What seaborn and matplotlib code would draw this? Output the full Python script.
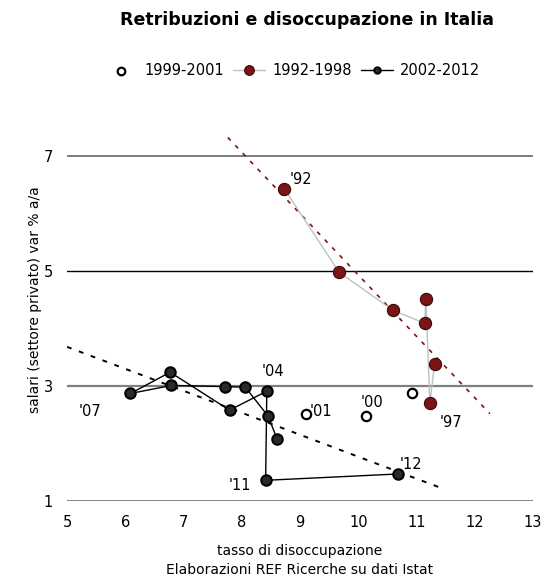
import numpy as np
import pandas as pd
import seaborn as sns
import matplotlib.pyplot as plt

# 1992-1998 (red, grey connecting line)
years_a = ["'92", "'93", "'94", "'95", "'96", "'97", "'98"]
disocc_a = [8.73, 9.67, 10.59, 11.14, 11.16, 11.23, 11.31]
salari_a = [6.43, 4.98, 4.32, 4.09, 4.52, 2.70, 3.39]

# 1999-2001 (open circles)
years_b = ["'99", "'00", "'01"]
disocc_b = [10.93, 10.13, 9.10]
salari_b = [2.87, 2.48, 2.51]

# 2002-2012 (black, black connecting line)
years_c = ["'02", "'03", "'04", "'05", "'06", "'07", "'08", "'09", "'10", "'11", "'12"]
disocc_c = [8.61, 8.45, 8.06, 7.71, 6.79, 6.09, 6.77, 7.79, 8.43, 8.41, 10.68]
salari_c = [2.07, 2.48, 2.98, 2.99, 3.01, 2.87, 3.24, 2.58, 2.91, 1.36, 1.47]

# label offsets in points
labels_a = {"'92": (4, 7), "'97": (7, -14)}
labels_b = {"'00": (-4, 10), "'01": (3, 2)}
labels_c = {"'04": (12, 11), "'07": (-37, -13), "'11": (-27, -4), "'12": (1, 7)}

df_a = pd.DataFrame({"x": disocc_a, "y": salari_a})
df_b = pd.DataFrame({"x": disocc_b, "y": salari_b})
df_c = pd.DataFrame({"x": disocc_c, "y": salari_c})

sns.set_style("white", {"text.color": "black", "axes.labelcolor": "black",
                        "xtick.color": "black", "ytick.color": "black"})
plt.rcParams["font.family"] = ["DejaVu Sans"]

fig = plt.figure(figsize=(5.43, 5.78), dpi=100)
ax = fig.add_axes([0.1234, 0.1332, 0.8582, 0.6964])

red = "#7b1416"

# horizontal gridlines
ax.axhline(7, color="#666666", lw=1.2, zorder=0)
ax.axhline(5, color="#000000", lw=1.0, zorder=0)
ax.axhline(3, color="#808080", lw=1.6, zorder=0)
ax.axhline(1, color="#707070", lw=1.2, zorder=0)

# linear trend lines
xa = np.linspace(7.76, 12.26, 50)
pa = np.polyfit(disocc_a, salari_a, 1)
ax.plot(xa, np.polyval(pa, xa), color=red, lw=1.2, ls=(0, (2.5, 4)), zorder=1)
xc = np.linspace(5.0, 11.4, 50)
pc = np.polyfit(disocc_c, salari_c, 1)
ax.plot(xc, np.polyval(pc, xc), color="black", lw=1.4, ls=(0, (2.5, 4)), zorder=1)

sns.scatterplot(data=df_b, x="x", y="y", ax=ax, marker="o", s=45,
                facecolor="white", edgecolor="black", linewidth=1.6,
                label="1999-2001", zorder=3)
sns.lineplot(data=df_a, x="x", y="y", ax=ax, sort=False, color="#c0c0c0", lw=1,
             marker="o", markersize=8.8, markerfacecolor=red, markeredgecolor="#3a0a0a",
             markeredgewidth=0.8, label="1992-1998", zorder=3)
sns.lineplot(data=df_c, x="x", y="y", ax=ax, sort=False, color="black", lw=1,
             marker="o", markersize=7.5, markerfacecolor="#2a2a2a", markeredgecolor="black",
             markeredgewidth=1.5, label="2002-2012", zorder=4)

for yrs, xs, ys, lab in [(years_a, disocc_a, salari_a, labels_a),
                         (years_b, disocc_b, salari_b, labels_b),
                         (years_c, disocc_c, salari_c, labels_c)]:
    for yr, x, y in zip(yrs, xs, ys):
        if yr in lab:
            ax.annotate(yr, (x, y), xytext=lab[yr], textcoords="offset points",
                        fontsize=10.5, color="black", ha="left", va="center")

ax.set_xlim(5, 13)
ax.set_ylim(1, 8)
ax.set_xticks(range(5, 14))
ax.set_yticks([1, 3, 5, 7])
ax.tick_params(axis="both", length=0, labelsize=10.5, pad=10, labelcolor="black")
for s in ax.spines.values():
    s.set_visible(False)

ax.set_xlabel("tasso di disoccupazione\nElaborazioni REF Ricerche su dati Istat",
              fontsize=10, linespacing=1.45, labelpad=10, color="black")
ax.set_ylabel("salari (settore privato) var % a/a", fontsize=10, labelpad=1, color="black")

leg = ax.legend(loc="center", bbox_to_anchor=(0.485, 1.07), ncol=3, frameon=False,
                fontsize=10.5, handlelength=2.2, columnspacing=0.6, handletextpad=0.5,
                labelcolor="black")
hs = leg.legend_handles
hs[0].set_sizes([30])
hs[1].set_markersize(7)
hs[2].set_markersize(4.5)

fig.suptitle("Retribuzioni e disoccupazione in Italia", x=0.565, y=0.965, va="center",
             fontsize=12.5, fontweight="bold", color="black")

fig.savefig("out.png", dpi=100)
